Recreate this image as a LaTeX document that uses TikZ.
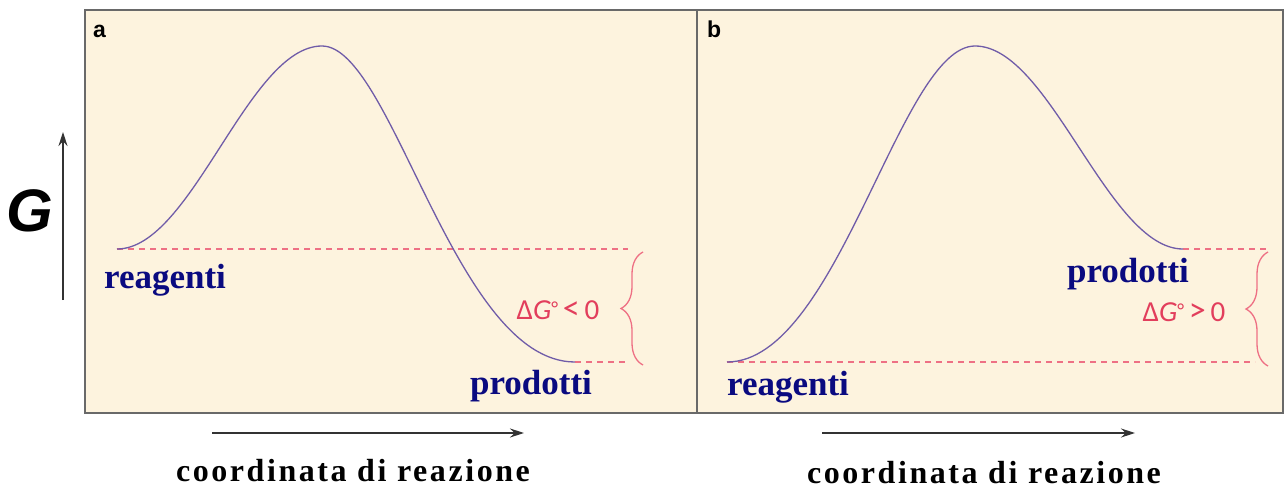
\documentclass[tikz,border=0pt]{standalone}
\usepackage{fontspec}
\setmainfont{Liberation Serif}
\newfontfamily\lblfont{Liberation Serif}
\newfontfamily\axfont[LetterSpace=8]{Liberation Serif}
\newfontfamily\dgfont{Carlito}
\newfontfamily\gfont{Liberation Sans}
\usetikzlibrary{arrows.meta,decorations.pathreplacing}
\definecolor{cream}{RGB}{253,243,222}
\definecolor{framegray}{RGB}{105,105,105}
\definecolor{curvepurple}{RGB}{112,92,168}
\definecolor{dashpink}{RGB}{238,112,132}
\definecolor{dgred}{RGB}{226,62,92}
\definecolor{navytext}{RGB}{10,10,128}
\newcommand{\smalldeg}{\raisebox{4pt}{\fontsize{20}{20}\selectfont°}}
\tikzset{
  panel/.style={draw=framegray, line width=2pt, fill=cream},
  curve/.style={draw=curvepurple, line width=1.3pt},
  level/.style={draw=dashpink, line width=1.3pt, dash pattern=on 6pt off 5pt},
  bracepink/.style={draw=dashpink, line width=1.3pt, decorate, decoration={brace, amplitude=22pt}},
  species/.style={font=\lblfont\bfseries\fontsize{35}{40}\selectfont, text=navytext, inner sep=0pt, anchor=base},
  axislabel/.style={font=\axfont\bfseries\fontsize{32}{38}\selectfont, text=black, inner sep=0pt, anchor=base},
  dglabel/.style={font=\dgfont\fontsize{29}{34}\selectfont, text=dgred, inner sep=0pt},
  axisarrow/.style={draw=black!80, line width=1.2pt, -{Stealth[length=14pt,width=9pt]}},
  panelletter/.style={font=\gfont\bfseries\fontsize{23}{26}\selectfont, inner sep=0pt, anchor=base west}
}
\begin{document}
\begin{tikzpicture}[x=1pt,y=-1pt]
\useasboundingbox (0,0) rectangle (1287,489);
% panels
\path[panel] (85,10) rectangle (697,413);
\path[panel] (697,10) rectangle (1283,413);
\node[panelletter] (la) at (93,38) {a};
\node[panelletter] (lb) at (707,38) {b};

% ---- panel a ----
\coordinate (a0) at (117,249);
\coordinate (a1) at (322,46);
\coordinate (a2) at (575,362);
\coordinate (aT) at (628,249);
\coordinate (aB) at (628,362);
\path[level] (a0) -- (aT);
\path[level] (a2) -- (aB);
\path[curve] (a0) .. controls (192,249) and (248,46) .. (a1)
              .. controls (392,46) and (455,362) .. (a2);
\coordinate (abB) at (643,365);
\coordinate (abT) at (643,252);
\path[bracepink] (abB) -- (abT);
\node[dglabel] (dga) at (558,310) {Δ\textit{G}\smalldeg\,{\fontsize{34}{34}\selectfont<}\,0};
\node[species] (ra) at (165,288) {reagenti};
\node[species] (pa) at (531,394) {prodotti};

% ---- panel b ----
\coordinate (b0) at (727,362);
\coordinate (b1) at (975,46);
\coordinate (b2) at (1183,249);
\coordinate (bT) at (1266,249);
\coordinate (bB) at (1255,362);
\path[level] (b2) -- (bT);
\path[level] (b0) -- (bB);
\path[curve] (b0) .. controls (838,362) and (900,46) .. (b1)
              .. controls (1050,46) and (1108,249) .. (b2);
\coordinate (bbB) at (1268,366);
\coordinate (bbT) at (1268,252);
\path[bracepink] (bbB) -- (bbT);
\node[dglabel] (dgb) at (1184,312) {Δ\textit{G}\smalldeg\,{\fontsize{34}{34}\selectfont>}\,0};
\node[species] (rb) at (788,395) {reagenti};
\node[species] (pb) at (1128,282) {prodotti};

% ---- axes ----
\coordinate (gy0) at (63,300);
\coordinate (gy1) at (63,132);
\path[axisarrow] (gy0) -- (gy1);
\node[font=\gfont\bfseries\itshape\fontsize{60}{66}\selectfont, inner sep=0pt] (G) at (30,211) {G};

\coordinate (ax0) at (212,433);
\coordinate (ax1) at (524,433);
\path[axisarrow] (ax0) -- (ax1);
\node[axislabel] (xa) at (353,481) {coordinata di reazione};

\coordinate (bx0) at (822,433);
\coordinate (bx1) at (1135,433);
\path[axisarrow] (bx0) -- (bx1);
\node[axislabel] (xb) at (984,483) {coordinata di reazione};
\end{tikzpicture}
\end{document}
